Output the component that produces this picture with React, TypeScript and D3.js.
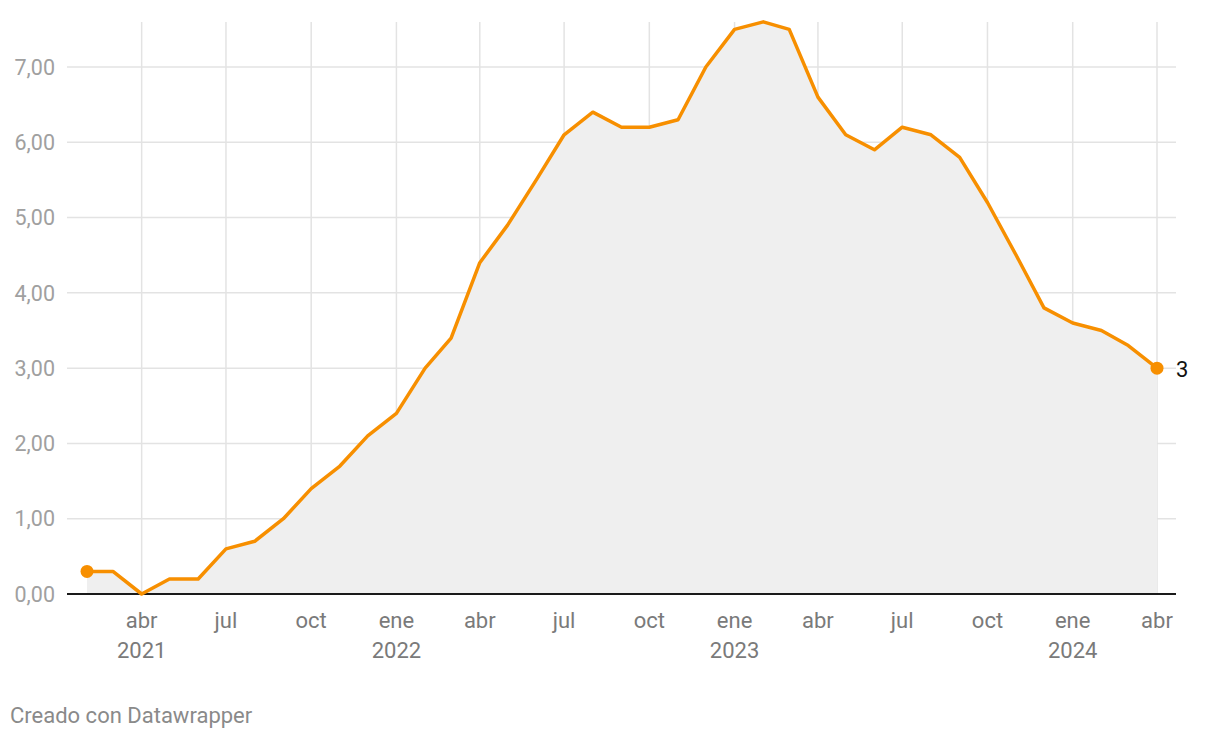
import React from "react";
import * as d3 from "d3";

const months: string[] = [
  "2021-02","2021-03","2021-04","2021-05","2021-06","2021-07","2021-08","2021-09","2021-10","2021-11","2021-12",
  "2022-01","2022-02","2022-03","2022-04","2022-05","2022-06","2022-07","2022-08","2022-09","2022-10","2022-11","2022-12",
  "2023-01","2023-02","2023-03","2023-04","2023-05","2023-06","2023-07","2023-08","2023-09","2023-10","2023-11","2023-12",
  "2024-01","2024-02","2024-03","2024-04",
];
const values: number[] = [
  0.3, 0.3, 0.0, 0.2, 0.2, 0.6, 0.7, 1.0, 1.4, 1.7, 2.1,
  2.4, 3.0, 3.4, 4.4, 4.9, 5.5, 6.1, 6.4, 6.2, 6.2, 6.3, 7.0,
  7.5, 7.6, 7.5, 6.6, 6.1, 5.9, 6.2, 6.1, 5.8, 5.2, 4.5, 3.8,
  3.6, 3.5, 3.3, 3.0,
];
const yTicks: number[] = [0, 1, 2, 3, 4, 5, 6, 7];
const xTicks: string[] = [
  "2021-04","2021-07","2021-10","2022-01","2022-04","2022-07","2022-10",
  "2023-01","2023-04","2023-07","2023-10","2024-01","2024-04",
];
const monthNames: string[] = ["ene","feb","mar","abr","may","jun","jul","ago","sep","oct","nov","dic"];
const endLabel = "3";
const footer = "Creado con Datawrapper";

const parse = d3.timeParse("%Y-%m");

export default function App() {
  const W = 1220, H = 740;
  const data = months.map((m, i) => ({ d: parse(m) as Date, v: values[i] }));
  const x = d3.scaleTime().domain([data[0].d, data[data.length - 1].d]).range([87, 1157]);
  const y = d3.scaleLinear().domain([0, 7]).range([594, 67]);
  const line = d3.line<{ d: Date; v: number }>().x((p) => x(p.d)).y((p) => y(p.v));
  const area = d3.area<{ d: Date; v: number }>().x((p) => x(p.d)).y0(y(0)).y1((p) => y(p.v));
  const fmt = (v: number) => v.toFixed(2).replace(".", ",");
  const font = "Roboto, 'Noto Sans', sans-serif";
  const last = data[data.length - 1];
  return (
    <svg width={W} height={H} style={{ position: "absolute", left: 0, top: 0 }} fontFamily={font}>
      <rect width={W} height={H} fill="#fff" />
      {yTicks.map((t) => (
        <g key={t}>
          {t > 0 && <line x1={67} x2={1176} y1={y(t)} y2={y(t)} stroke="#e3e3e3" strokeWidth={1.5} />}
          <text x={55} y={y(t)} dy="0.36em" textAnchor="end" fontSize={21.5} fill="#a0a0a0">{fmt(t)}</text>
        </g>
      ))}
      {xTicks.map((m) => {
        const dt = parse(m) as Date;
        return <line key={m} x1={x(dt)} x2={x(dt)} y1={22} y2={594} stroke="#e3e3e3" strokeWidth={1.5} />;
      })}
      <path d={area(data) ?? ""} fill="#efefef" />
      {xTicks.map((m) => {
        const dt = parse(m) as Date;
        const mi = dt.getMonth();
        const showYear = mi === 0 || (mi === 3 && dt.getFullYear() === 2021);
        return (
          <g key={"l" + m}>
            <text x={x(dt)} y={628} textAnchor="middle" fontSize={22} fill="#7a7a7a">{monthNames[mi]}</text>
            {showYear && (
              <text x={x(dt)} y={658} textAnchor="middle" fontSize={22} fill="#7a7a7a">{dt.getFullYear()}</text>
            )}
          </g>
        );
      })}
      <line x1={67} x2={1176} y1={594} y2={594} stroke="#1a1a1a" strokeWidth={2} />
      <path d={line(data) ?? ""} fill="none" stroke="#f78f00" strokeWidth={3.5} strokeLinejoin="round" />
      <circle cx={x(data[0].d)} cy={y(data[0].v)} r={6.5} fill="#f78f00" />
      <circle cx={x(last.d)} cy={y(last.v)} r={6.5} fill="#f78f00" />
      <text x={x(last.d) + 19} y={y(last.v)} dy="0.42em" fontSize={22} fill="#111">{endLabel}</text>
      <text x={10} y={723} fontSize={22} fill="#8a8a8a">{footer}</text>
    </svg>
  );
}
